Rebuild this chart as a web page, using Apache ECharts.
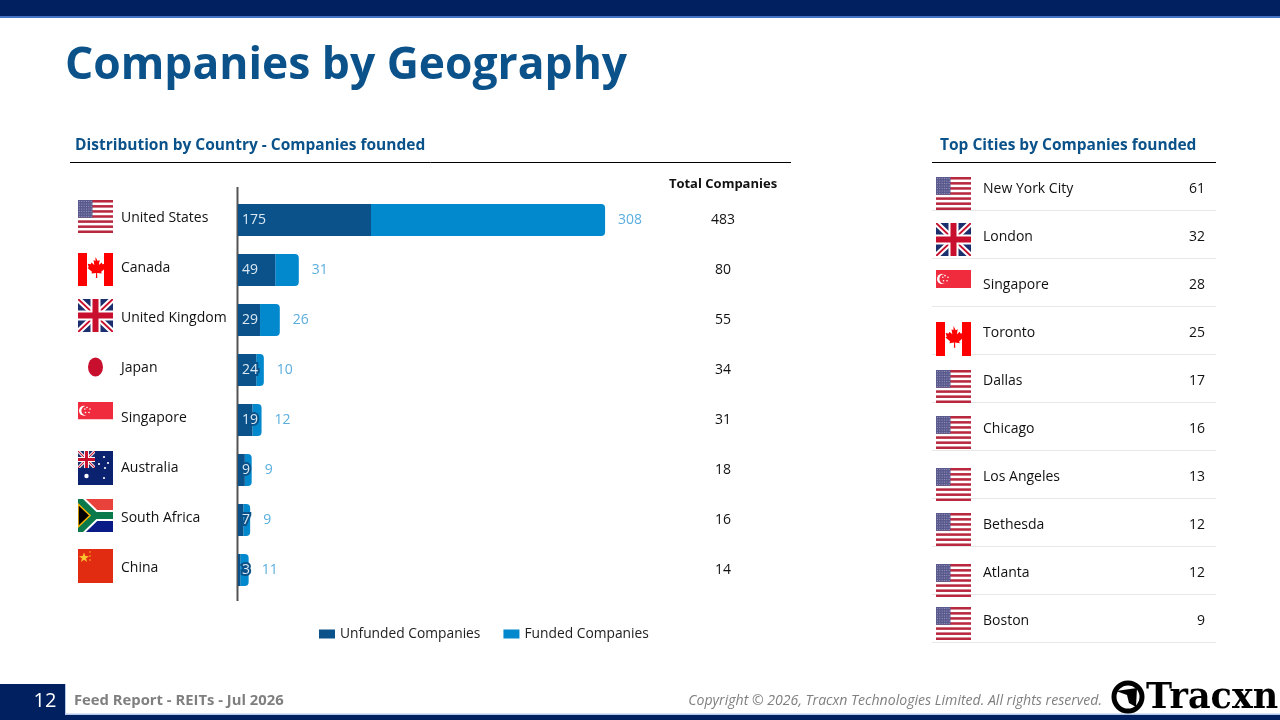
<!DOCTYPE html>
<html><head><meta charset="utf-8">
<style>html,body{margin:0;padding:0;background:#fff}#c{width:1280px;height:720px}</style>
<script src="https://cdn.jsdelivr.net/npm/echarts@6/dist/echarts.min.js"></script>
</head><body><div id="c"></div>
<script>
const countries = ['United States','Canada','United Kingdom','Japan','Singapore','Australia','South Africa','China'];
const unfunded = [175,49,29,24,19,9,7,3];
const funded = [308,31,26,10,12,9,9,11];
const totals = ['483','80','55','34','31','18','16','14'];
const cities = ['New York City','London','Singapore','Toronto','Dallas','Chicago','Los Angeles','Bethesda','Atlanta','Boston'];
const cityCounts = ['61','32','28','25','17','16','13','12','12','9'];

const NAVY='#002060', BLUE='#0a5289', LIGHT='#0288cc', FONT='"Open Sans"';

function svg(w,h,body){return 'data:image/svg+xml;charset=utf-8,'+encodeURIComponent(
  `<svg xmlns="http://www.w3.org/2000/svg" width="${w*4}" height="${h*4}" viewBox="0 0 ${w} ${h}" preserveAspectRatio="none">${body}</svg>`);}
function usBody(){let s='<rect width="35" height="33" fill="#fff"/>';
  for(let i=0;i<7;i++)s+=`<rect y="${i*5.08}" width="35" height="2.54" fill="#b8283f"/>`;
  s+='<rect width="14.5" height="17.8" fill="#5a5a8e"/>';
  for(let r=0;r<7;r++)for(let c=0;c<6;c++)s+=`<circle cx="${1.4+c*2.35}" cy="${1.4+r*2.5}" r=".5" fill="#a5a5c5"/>`;
  return s;}
function ukBody(){return `<rect width="35" height="33" fill="#1b2f6e"/>
 <path d="M0 0L35 33M35 0L0 33" stroke="#fff" stroke-width="6"/>
 <path d="M0 0L35 33M35 0L0 33" stroke="#c8102e" stroke-width="2"/>
 <path d="M17.5 0V33M0 16.5H35" stroke="#fff" stroke-width="10"/>
 <path d="M17.5 0V33M0 16.5H35" stroke="#c8102e" stroke-width="6"/>`;}
function caBody(){return `<rect width="35" height="33" fill="#fff"/><rect width="9" height="33" fill="#f00"/><rect x="26" width="9" height="33" fill="#f00"/>
 <path d="M17.5 4l2.2 4 2-1-.8 5 2.8-2.6.8 1.8 3-.5-1 3.5 1.2.8-4.5 3.8.5 1.8-4.6-.6.2 5h-1.4l.2-5-4.6.6.5-1.8-4.5-3.8 1.2-.8-1-3.5 3 .5.8-1.8 2.8 2.6-.8-5 2 1z" fill="#f00"/>`;}
function sgBody(){let s='<rect width="35" height="17.5" fill="#ef2b3d"/><circle cx="6" cy="8.7" r="5" fill="#fff"/><circle cx="8" cy="8.7" r="4.6" fill="#ef2b3d"/>';
  [[9,5.5],[12,7],[11,10.5],[7.5,10.5],[6.8,7]].forEach(p=>s+=`<circle cx="${p[0]}" cy="${p[1]}" r=".8" fill="#fff"/>`);return s;}
function jpBody(){return '<rect width="35" height="33" fill="#fff"/><ellipse cx="17.5" cy="17" rx="7.5" ry="9.5" fill="#c8102e"/>';}
function auBody(){let s=`<rect width="35" height="34" fill="#0b2270"/><svg width="17" height="17" viewBox="0 0 35 33" preserveAspectRatio="none">${ukBody()}</svg><circle cx="8.5" cy="25" r="2.2" fill="#fff"/>`;
  [[26,6],[21,13],[30,12],[26,27],[27,17]].forEach(p=>s+=`<circle cx="${p[0]}" cy="${p[1]}" r="1.1" fill="#fff"/>`);return s;}
function zaBody(){return `<rect width="35" height="33" fill="#fff"/><rect width="35" height="11" fill="#e8423a"/><rect y="22" width="35" height="11" fill="#0a1a87"/>
 <path d="M0 0L17 16.5L0 33M17 16.5H35" fill="none" stroke="#fff" stroke-width="11"/>
 <path d="M0 0L17 16.5L0 33M17 16.5H35" fill="none" stroke="#0a7a4d" stroke-width="7"/>
 <path d="M0 5L12 16.5L0 28Z" fill="#000" stroke="#f4b400" stroke-width="1.6"/>`;}
function cnBody(){return `<rect width="35" height="34" fill="#e22c12"/><path d="M6 3.5l1.3 3.6 3.7.1-3 2.2 1.1 3.6-3.1-2.2-3.1 2.2 1.1-3.6-3-2.2 3.7-.1z" fill="#fbc531"/>
 <path d="M12 2v11" stroke="#fbc531" stroke-width=".8" stroke-dasharray="2 2"/>`;}
const flagImg={us:svg(35,33,usBody()),ca:svg(35,33,caBody()),uk:svg(35,33,ukBody()),jp:svg(35,33,jpBody()),
  sg:svg(35,17.5,sgBody()),au:svg(35,34,auBody()),za:svg(35,33,zaBody()),cn:svg(35,34,cnBody())};
function flag(k,x,y,w,h){return {type:'image',z:5,style:{image:flagImg[k],x,y,width:w,height:h}};}
function rect(x,y,w,h,fill){return {type:'rect',z:4,shape:{x,y,width:w,height:h},style:{fill}};}
function text(t,x,y,o){return {type:'text',z:6,x,y,style:Object.assign({text:t,fontFamily:FONT,verticalAlign:'middle',textVerticalAlign:'middle'},o)};}
function line(x1,y1,x2,y2,stroke,lw,z){return {type:'line',z:z||6,shape:{x1,y1,x2,y2},style:{stroke,lineWidth:lw}};}

const graphics=[
  rect(0,0,1280,16,NAVY), rect(0,16,1280,2,'#4472c4'),
  rect(0,715,1280,5,NAVY), rect(0,684,65,31,NAVY), rect(65,684,1,31,'#b4c7e7'), rect(66,713.5,1214,1.5,'#b4c7e7'),
  text('Companies by Geography',65,66,{fontSize:44.4,fontWeight:'bold',fill:BLUE}),
  text('Distribution by Country - Companies founded',75,146,{fontSize:15.5,fontWeight:'bold',fill:BLUE}),
  text('Top Cities by Companies founded',940,146,{fontSize:15.5,fontWeight:'bold',fill:BLUE}),
  text('Total Companies',723,184,{fontSize:13,fontWeight:'bold',fill:'#111',align:'center'}),
  line(70,162.5,791,162.5,'#000',1), line(932,162.5,1216,162.5,'#000',1),
  line(237.5,187,237.5,601,'#555',2,1),
  text('12',45,701,{fontSize:20,fill:'#fff',align:'center'}),
  text('Feed Report - REITs - Jul 2026',74,701,{fontSize:14.8,fontWeight:'bold',fill:'#7f7f7f'}),
  text('Copyright \u00a9 2026, Tracxn Technologies Limited. All rights reserved.',1102,701,{fontSize:14.1,fontStyle:'italic',fill:'#7f7f7f',align:'right'}),
  {type:'circle',z:6,shape:{cx:1128,cy:697,r:14},style:{fill:'#fff',stroke:'#000',lineWidth:5}},
  {type:'polygon',z:7,shape:{points:[[1116,691],[1137,688],[1136,707],[1129,703],[1127,695]]},style:{fill:'#000'}},
  text('Tracxn',1146,699,{fontSize:35,fontWeight:'bold',fontFamily:'"DejaVu Serif"',fill:'#000'}),
  flag('us',78,200,35,33),flag('ca',78,253,35,33),flag('uk',78,299,35,33),flag('jp',78,350,35,33),
  flag('sg',78,402,35,17.5),flag('au',78,451,35,34),flag('za',78,499,35,33),flag('cn',78,549,35,34),
  flag('us',936,177,35,33),flag('uk',936,223,35,33),flag('sg',936,270,35,18),flag('ca',936,322,35,34),
  flag('us',936,370,35,33),flag('us',936,416,35,33),flag('us',936,468,35,33),flag('us',936,513,35,33),
  flag('us',936,564,35,33),flag('us',936,607,35,33)
];

const chart=echarts.init(document.getElementById('c'),null,{renderer:'canvas'});
const inLabel={show:true,position:'insideLeft',distance:4,color:'#dbe9f4',fontSize:14,fontFamily:FONT,
  textBorderColor:BLUE,textBorderWidth:4};
function shifted(pad){return {formatter:'{a|{value}}',rich:{a:{fontSize:14,color:'#111',fontFamily:FONT,padding:pad}}};}
chart.setOption({
  animation:false,backgroundColor:'#fff',textStyle:{fontFamily:FONT},
  legend:{left:314,top:622,itemWidth:16,itemHeight:9,itemGap:23,icon:'rect',selectedMode:false,
    textStyle:{fontSize:13.8,color:'#222',fontFamily:FONT},data:['Unfunded Companies','Funded Companies']},
  grid:[
    {left:238,top:195,width:532,height:400,containLabel:false},
    {left:932,top:162,width:284,height:480,containLabel:false}
  ],
  xAxis:[
    {type:'value',gridIndex:0,min:0,max:700,show:false},
    {type:'value',gridIndex:1,min:0,max:1,show:false}
  ],
  yAxis:[
    {type:'category',gridIndex:0,inverse:true,data:countries,axisLine:{show:false},axisTick:{show:false},
      axisLabel:Object.assign({interval:0,align:'left',margin:117},shifted([0,0,3,0]))},
    {type:'category',gridIndex:0,inverse:true,position:'right',data:totals,axisLine:{show:false},axisTick:{show:false},
      axisLabel:{interval:0,inside:true,align:'center',margin:47,fontSize:14,color:'#111',fontFamily:FONT}},
    {type:'category',gridIndex:1,inverse:true,position:'left',data:cities,axisLine:{show:false},axisTick:{show:false},
      splitLine:{show:true,interval:0,lineStyle:{color:'#e8e8e8',width:1}},
      axisLabel:Object.assign({interval:0,inside:true,align:'left',margin:51},shifted([6,0,0,0]))},
    {type:'category',gridIndex:1,inverse:true,position:'right',data:cityCounts,axisLine:{show:false},axisTick:{show:false},
      axisLabel:Object.assign({interval:0,inside:true,align:'right',margin:11},shifted([6,0,0,0]))}
  ],
  series:[
    {name:'Unfunded Companies',type:'bar',stack:'t',xAxisIndex:0,yAxisIndex:0,barWidth:32,data:unfunded,
      itemStyle:{color:BLUE},label:inLabel,z:3,silent:true},
    {name:'Funded Companies',type:'bar',stack:'t',xAxisIndex:0,yAxisIndex:0,barWidth:32,data:funded,
      itemStyle:{color:LIGHT,borderRadius:[0,4,4,0]},z:2,silent:true,
      label:{show:true,position:'right',distance:13,color:'#5aaede',fontSize:14,fontFamily:FONT}}
  ],
  graphic:{elements:graphics}
});
</script></body></html>
